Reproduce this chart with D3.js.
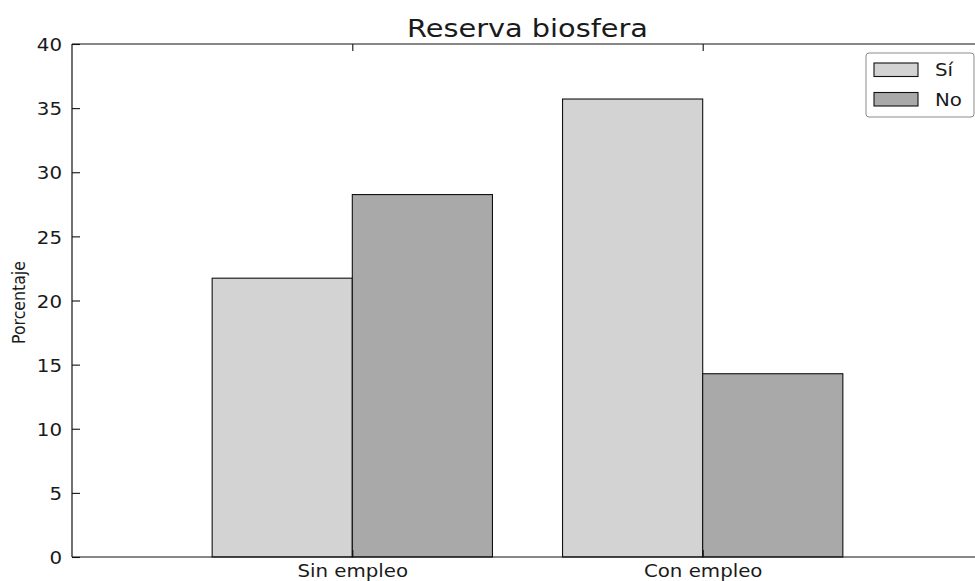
<!DOCTYPE html>
<html>
<head>
<meta charset="utf-8">
<script src="https://cdn.jsdelivr.net/npm/d3@7"></script>
<style>
  html, body { margin: 0; padding: 0; background: #fff; }
  svg { display: block; }
  text { font-family: "DejaVu Sans", sans-serif; fill: #1a1a1a; }
</style>
</head>
<body>
<div id="chart"></div>
<script>
// ---- data ----
const categories = ["Sin empleo", "Con empleo"];
const seriesNames = ["Sí", "No"];
const valuesSi = [21.74, 35.71];
const valuesNo = [28.26, 14.29];
const yTickValues = [0, 5, 10, 15, 20, 25, 30, 35, 40];
const titleText = "Reserva biosfera";
const yLabelText = "Porcentaje";

// ---- styles ----
const seriesColors = ["#d3d3d3", "#a9a9a9"];
const W = 975, H = 581;
const plot = { left: 72, right: 983, top: 44, bottom: 557 };
const barW = 0.4;
const sx = 1.1; // horizontal stretch of text in the reference

const svg = d3.select("#chart").append("svg").attr("width", W).attr("height", H);

const x = d3.scaleLinear().domain([-0.8, 1.8]).range([plot.left, plot.right]);
const y = d3.scaleLinear().domain([0, 40]).range([plot.bottom, plot.top]);

// bars
const series = [valuesSi, valuesNo];
series.forEach((vals, s) => {
  svg.append("g").selectAll("rect").data(vals).join("rect")
    .attr("x", (d, i) => x(i - barW + s * barW))
    .attr("width", x(barW) - x(0))
    .attr("y", d => y(d))
    .attr("height", d => y(0) - y(d))
    .attr("fill", seriesColors[s])
    .attr("stroke", "#111")
    .attr("stroke-width", 1.1);
});

// spines
const spine = svg.append("g").attr("fill", "none").attr("stroke", "#111").attr("stroke-width", 1.2);
spine.append("line").attr("x1", plot.left).attr("x2", plot.left).attr("y1", plot.top).attr("y2", plot.bottom);
spine.append("line").attr("x1", plot.left).attr("x2", plot.right).attr("y1", plot.top).attr("y2", plot.top);
spine.append("line").attr("x1", plot.left).attr("x2", plot.right).attr("y1", plot.bottom).attr("y2", plot.bottom);
spine.append("line").attr("x1", plot.right).attr("x2", plot.right).attr("y1", plot.top).attr("y2", plot.bottom);

// y axis (inward ticks)
const yAxis = d3.axisLeft(y).tickValues(yTickValues).tickSize(-8).tickPadding(18).tickFormat(d3.format("d"));
const gy = svg.append("g").attr("transform", `translate(${plot.left},0)`).call(yAxis);
gy.select(".domain").remove();
gy.selectAll(".tick line").attr("stroke", "#111").attr("stroke-width", 1.1);
gy.selectAll(".tick text").each(function() {
  d3.select(this).attr("x", null).attr("dy", null)
   .attr("transform", `translate(${-10},0) scale(${sx},1)`)
   .attr("dominant-baseline", "central")
   .attr("font-size", 18).attr("font-family", "DejaVu Sans").attr("fill", "#1a1a1a");
});

// top axis ticks (inward)
const xTop = d3.axisTop(x).tickValues([0, 1]).tickSize(-7).tickFormat("");
const gt = svg.append("g").attr("transform", `translate(0,${plot.top})`).call(xTop);
gt.select(".domain").remove();
gt.selectAll(".tick line").attr("stroke", "#111").attr("stroke-width", 1.1);

// bottom axis
const xBottom = d3.axisBottom(x).tickValues([0, 1]).tickSize(-7).tickFormat(i => categories[i]);
const gb = svg.append("g").attr("transform", `translate(0,${plot.bottom})`).call(xBottom);
gb.select(".domain").remove();
gb.selectAll(".tick line").attr("stroke", "#111").attr("stroke-width", 1.1);
gb.selectAll(".tick text").each(function() {
  d3.select(this).attr("y", null).attr("dy", null)
    .attr("transform", `translate(0,20) scale(${sx},1)`)
    .attr("font-size", 18).attr("font-family", "DejaVu Sans").attr("fill", "#1a1a1a");
});

// title
svg.append("text")
  .attr("transform", `translate(${(plot.left + plot.right) / 2},36.5) scale(1.2,1)`)
  .attr("text-anchor", "middle")
  .attr("font-size", 24)
  .text(titleText);

// y label
svg.append("text")
  .attr("transform", `translate(25,${(plot.top + plot.bottom) / 2 + 2}) rotate(-90)`)
  .attr("text-anchor", "middle")
  .attr("font-size", 17.5)
  .style("font-family", "'DejaVu Sans Condensed', 'Liberation Sans Narrow', 'Roboto Condensed', 'Open Sans', sans-serif")
  .style("font-stretch", "condensed")
  .text(yLabelText);

// legend
const lg = svg.append("g").attr("transform", "translate(866,53)");
lg.append("rect").attr("width", 108).attr("height", 64).attr("rx", 3)
  .attr("fill", "#fff").attr("stroke", "#8a8a8a").attr("stroke-width", 1);
seriesNames.forEach((name, i) => {
  const row = lg.append("g").attr("transform", `translate(8,${10 + i * 29.5})`);
  row.append("rect").attr("width", 44).attr("height", 13.5)
    .attr("fill", seriesColors[i]).attr("stroke", "#111").attr("stroke-width", 1.1);
  row.append("text").attr("transform", `translate(61,13) scale(${sx},1)`)
    .attr("font-size", 18).text(name);
});
</script>
</body>
</html>
